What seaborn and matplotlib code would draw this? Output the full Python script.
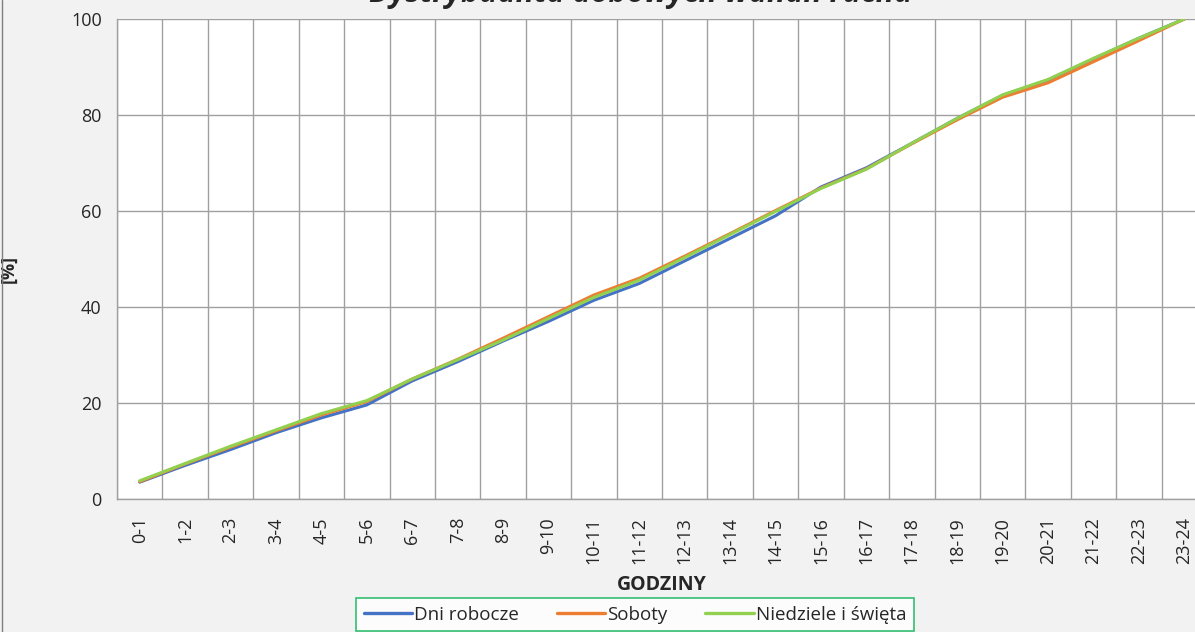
import matplotlib
matplotlib.use("Agg")
import matplotlib.pyplot as plt
import seaborn as sns
import pandas as pd
import numpy as np
from matplotlib.lines import Line2D

hours = ["0-1", "1-2", "2-3", "3-4", "4-5", "5-6", "6-7", "7-8", "8-9", "9-10",
         "10-11", "11-12", "12-13", "13-14", "14-15", "15-16", "16-17", "17-18",
         "18-19", "19-20", "20-21", "21-22", "22-23", "23-24"]
dni_robocze = [3.5, 7.0, 10.3, 13.8, 16.9, 19.6, 24.6, 28.6, 32.9, 37.0, 41.4, 44.9,
               49.6, 54.3, 59.0, 65.0, 69.0, 74.1, 79.3, 84.1, 87.3, 91.7, 96.0, 100.0]
soboty = [3.6, 7.3, 10.8, 14.2, 17.5, 20.3, 25.0, 29.1, 33.5, 38.0, 42.5, 46.0,
          50.6, 55.3, 60.1, 64.8, 68.8, 74.0, 79.0, 83.7, 86.7, 91.1, 95.5, 100.0]
niedziele = [3.8, 7.4, 11.0, 14.4, 17.8, 20.5, 25.0, 29.0, 33.1, 37.6, 42.0, 45.6,
             50.3, 55.1, 59.9, 64.7, 68.7, 74.1, 79.3, 84.2, 87.4, 91.8, 96.0, 100.0]
series_names = ["Dni robocze", "Soboty", "Niedziele i święta"]
colors = ["#4472C4", "#ED7D31", "#92D050"]
yticks = [0, 20, 40, 60, 80, 100]

sns.set_theme(style="white")
plt.rcParams['font.family'] = ['Open Sans', 'DejaVu Sans']

rows = []
for name, vals in zip(series_names, [dni_robocze, soboty, niedziele]):
    for i, v in enumerate(vals):
        rows.append({"x": i, "hour": hours[i], "value": v, "series": name})
df = pd.DataFrame(rows)

W, H = 1195, 632
fig = plt.figure(figsize=(W / 100, H / 100), dpi=100)
fig.patch.set_facecolor("#F2F2F2")
ax = fig.add_axes([117 / W, 1 - 499 / H, (1207 - 117) / W, 480 / H])
ax.set_facecolor("white")

sns.lineplot(data=df, x="x", y="value", hue="series", hue_order=series_names,
             palette=colors, linewidth=2.2, ax=ax, legend=False, sort=False)

ax.set_xlim(-0.5, 23.5)
ax.set_ylim(0, 100)
ax.set_yticks(yticks)
ax.set_yticklabels([str(t) for t in yticks], fontsize=13)
ax.set_xticks(range(len(hours)))
ax.set_xticklabels(hours, rotation=90, fontsize=13)
ax.set_xticks(np.arange(-0.5, 24, 1), minor=True)
ax.tick_params(axis="x", which="major", length=0, pad=13)
ax.tick_params(axis="x", which="minor", length=5, color="#A0A0A0", width=1, direction="out")
ax.tick_params(axis="y", which="major", length=6, color="#A0A0A0", width=1, pad=5, direction="out")
ax.grid(False)
ax.grid(True, axis="x", which="minor", color="#A0A0A0", linewidth=1)
ax.grid(True, axis="y", which="major", color="#A0A0A0", linewidth=1)
ax.set_axisbelow(True)
for s in ["top", "right"]:
    ax.spines[s].set_visible(False)
for s in ["left", "bottom"]:
    ax.spines[s].set_color("#A0A0A0")
    ax.spines[s].set_linewidth(1)

ax.set_xlabel("GODZINY", fontsize=14, fontweight="bold", labelpad=8)
ax.set_ylabel("[%]", fontsize=13, fontweight="bold")
ax.yaxis.set_label_coords(-(117 - 18) / 1090, 0.48)

fig.text(641 / W, 1 - 2 / H, "Dystrybuanta dobowych wahań ruchu", ha="center",
         va="baseline", fontsize=22, fontweight="bold", fontstyle="italic")

handles = [Line2D([0], [0], color=c, linewidth=2.4) for c in colors]
leg = fig.legend(handles, series_names, loc="upper left",
                 bbox_to_anchor=(356 / W, 1 - 598 / H), ncol=3, fontsize=13.5,
                 frameon=True, fancybox=False, handlelength=2.6, handletextpad=0.1,
                 columnspacing=2.0, borderpad=0.4, borderaxespad=0)
leg.get_frame().set_edgecolor("#00B050")
leg.get_frame().set_linewidth(1.2)
leg.get_frame().set_facecolor("white")

fig.add_artist(Line2D([1.5 / W, 1.5 / W], [0, 1], transform=fig.transFigure,
                      color="#7F7F7F", linewidth=1))

fig.savefig("out.png", dpi=100, facecolor=fig.get_facecolor())
